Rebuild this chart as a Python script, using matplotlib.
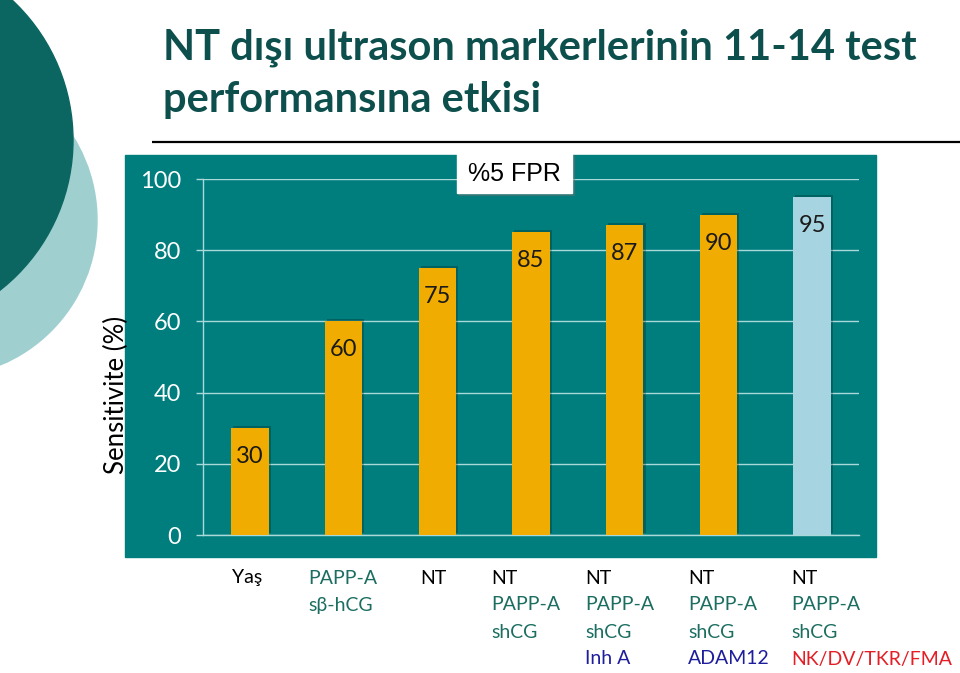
import matplotlib
matplotlib.use("Agg")
import matplotlib.pyplot as plt
from matplotlib.patches import Circle, Rectangle
import matplotlib.patheffects as pe

# ---------------- data ----------------
categories = ["Yaş", "PAPP-A/sβ-hCG", "NT", "NT/PAPP-A/shCG", "NT/PAPP-A/shCG/Inh A",
              "NT/PAPP-A/shCG/ADAM12", "NT/PAPP-A/shCG/NK/DV/TKR/FMA"]
sensitivity = [30, 60, 75, 85, 87, 90, 95]
label_lines = [
    ["Yaş"],
    ["PAPP-A", "sβ-hCG"],
    ["NT"],
    ["NT", "PAPP-A", "shCG"],
    ["NT", "PAPP-A", "shCG", "Inh A"],
    ["NT", "PAPP-A", "shCG", "ADAM12"],
    ["NT", "PAPP-A", "shCG", "NK/DV/TKR/FMA"],
]
y_ticks = [0, 20, 40, 60, 80, 100]
title_lines = ["NT dışı ultrason markerlerinin 11-14 test", "performansına etkisi"]
ylabel = "Sensitivite (%)"
box_text = "%5 FPR"

# ---------------- styles ----------------
W, H = 960, 673
BAR_ORANGE = "#F0AC00"
BAR_LIGHT = "#A6D5E1"
PANEL = "#007D7D"
GRID = "#A9D9D9"
TITLE_C = "#0D4F4C"
GREEN_T = "#1B6E60"
BLUE_T = "#1E1E9C"
RED_T = "#E31E24"
word_color = {"Yaş": "black", "NT": "black", "PAPP-A": GREEN_T, "sβ-hCG": GREEN_T,
              "shCG": GREEN_T, "Inh A": BLUE_T, "ADAM12": BLUE_T, "NK/DV/TKR/FMA": RED_T}
label_left_px = [232, 308, 420, 491, 585, 688, 791]
line_y_px = [578, 605, 632, 659]

fig = plt.figure(figsize=(W / 100, H / 100), dpi=100, facecolor="white")

# background layer in pixel coordinates
bg = fig.add_axes([0, 0, 1, 1], zorder=0)
bg.set_xlim(0, W)
bg.set_ylim(H, 0)
bg.axis("off")
bg.add_patch(Circle((-60, 220), 157, color="#A0CFD0", zorder=1))
bg.add_patch(Circle((-118, 140), 191, color="#0B6661", zorder=2))
bg.plot([152, 960], [142, 142], color="black", lw=1.6, zorder=2, solid_capstyle="butt")
bg.add_patch(Rectangle((125, 155), 751, 402, color=PANEL, zorder=2))

bg.text(163, 48, title_lines[0], fontsize=30, fontweight="bold", color=TITLE_C,
        family="Lato", va="center", ha="left", zorder=3)
bg.text(163, 100, title_lines[1], fontsize=30, fontweight="bold", color=TITLE_C,
        family="Lato", va="center", ha="left", zorder=3)
bg.text(116, 395, ylabel, fontsize=18.5, rotation=90, color="black", family="Lato",
        va="center", ha="center", zorder=3)

# x category labels
for i, lines in enumerate(label_lines):
    for j, word in enumerate(lines):
        bg.text(label_left_px[i], line_y_px[j], word, fontsize=14, family="Lato",
                color=word_color[word], ha="left", va="center", zorder=3)

# chart
ax = fig.add_axes([203 / W, 1 - 535 / H, 656 / W, 356 / H], zorder=1)
ax.patch.set_visible(False)
x = list(range(len(sensitivity)))
colors = [BAR_ORANGE] * (len(sensitivity) - 1) + [BAR_LIGHT]
bars = ax.bar(x, sensitivity, width=0.4, color=colors, zorder=3)
for b in bars:
    b.set_path_effects([pe.SimplePatchShadow(offset=(1.5, 1.5), shadow_rgbFace="black", alpha=0.22),
                        pe.Normal()])
for xi, v in zip(x, sensitivity):
    ax.text(xi, v - 8, f"{v}", ha="center", va="center", fontsize=17,
            color="#1a1a1a", family="Lato", zorder=4)

ax.set_xlim(-0.5, len(sensitivity) - 0.5)
ax.set_ylim(0, 100)
ax.set_yticks(y_ticks)
ax.set_yticklabels([str(t) for t in y_ticks], color="white", fontsize=17, family="Lato")
ax.tick_params(axis="y", length=5, width=1, color=GRID, pad=11)
ax.set_xticks([])
ax.grid(axis="y", color=GRID, lw=1, zorder=1)
ax.set_axisbelow(True)
for s in ["top", "right"]:
    ax.spines[s].set_visible(False)
ax.spines["left"].set_color(GRID)
ax.spines["bottom"].set_color(GRID)
ax.spines["left"].set_linewidth(1)
ax.spines["bottom"].set_linewidth(1)

# FPR box
ax_box_layer = fig.add_axes([0, 0, 1, 1], zorder=5)
ax_box_layer.set_xlim(0, W)
ax_box_layer.set_ylim(H, 0)
ax_box_layer.axis("off")
ax_box_layer.add_patch(Rectangle((459, 155), 115, 40, color="#6f6f6f", alpha=0.35))
ax_box_layer.add_patch(Rectangle((457, 153), 115, 40, color="white"))
ax_box_layer.text(514, 174, box_text, fontsize=18, family="Liberation Sans",
                  ha="center", va="center", color="black")

fig.savefig("out.png", dpi=100, facecolor="white")
